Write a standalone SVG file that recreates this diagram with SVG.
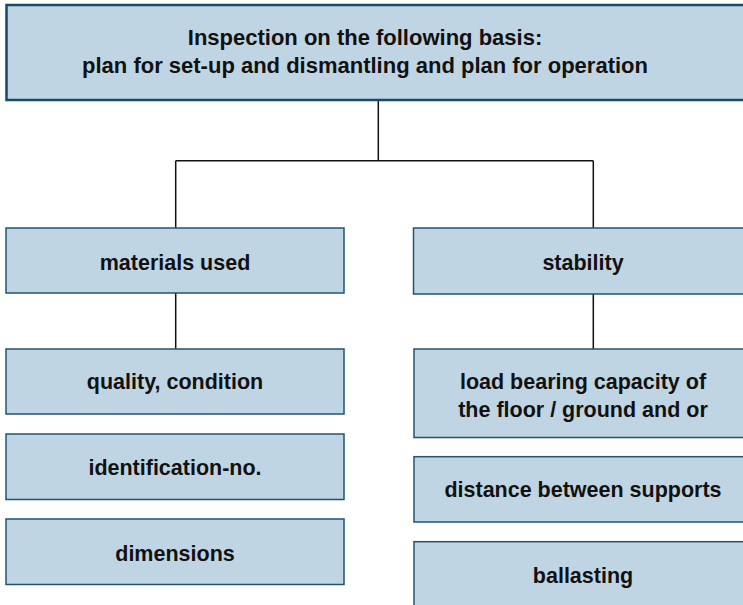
<svg xmlns="http://www.w3.org/2000/svg" width="743" height="605" viewBox="0 0 743 605">
<style>
.box{fill:#c0d5e3;stroke:#1f5573;stroke-width:1.5}
.top{fill:#c0d5e3;stroke:#174a68;stroke-width:2.5}
.t{font-family:"Liberation Sans",Arial,sans-serif;font-weight:bold;font-size:21.5px;fill:#111;text-anchor:middle}
.tt{font-size:22px}
.c{fill:none;stroke:#111;stroke-width:1.5}
</style>
<rect width="743" height="605" fill="#fff"/>
<g id="connectors">
<path class="c" d="M378.3 100V160.7M175.7 160.7H593.3M175.7 160.7V228M593.3 160.7V228M175.7 293V349M593.3 294V349"/>
</g>
<g id="n-top">
<rect class="top" x="6.5" y="5" width="760" height="95"/>
<text class="t tt" x="365" y="45">Inspection on the following basis:</text>
<text class="t tt" x="365" y="72.7">plan for set-up and dismantling and plan for operation</text>
</g>
<g id="n-materials">
<rect class="box" x="6" y="228" width="338" height="65"/>
<text class="t" x="175" y="270">materials used</text>
</g>
<g id="n-stability">
<rect class="box" x="413.5" y="228" width="340" height="66"/>
<text class="t" x="583" y="270">stability</text>
</g>
<g id="n-quality">
<rect class="box" x="6" y="349" width="338" height="65"/>
<text class="t" x="175" y="389">quality, condition</text>
</g>
<g id="n-ident">
<rect class="box" x="6" y="434" width="338" height="65.5"/>
<text class="t" x="175" y="475">identification-no.</text>
</g>
<g id="n-dimensions">
<rect class="box" x="6" y="519" width="338" height="65.5"/>
<text class="t" x="175" y="561">dimensions</text>
</g>
<g id="n-load">
<rect class="box" x="414" y="349" width="340" height="88.5"/>
<text class="t" x="583" y="389.3">load bearing capacity of</text>
<text class="t" x="583" y="416.7">the floor / ground and or</text>
</g>
<g id="n-distance">
<rect class="box" x="414" y="456.7" width="340" height="65.3"/>
<text class="t" x="583" y="496.7">distance between supports</text>
</g>
<g id="n-ballasting">
<rect class="box" x="414" y="541.7" width="340" height="80"/>
<text class="t" x="583" y="583">ballasting</text>
</g>
</svg>
